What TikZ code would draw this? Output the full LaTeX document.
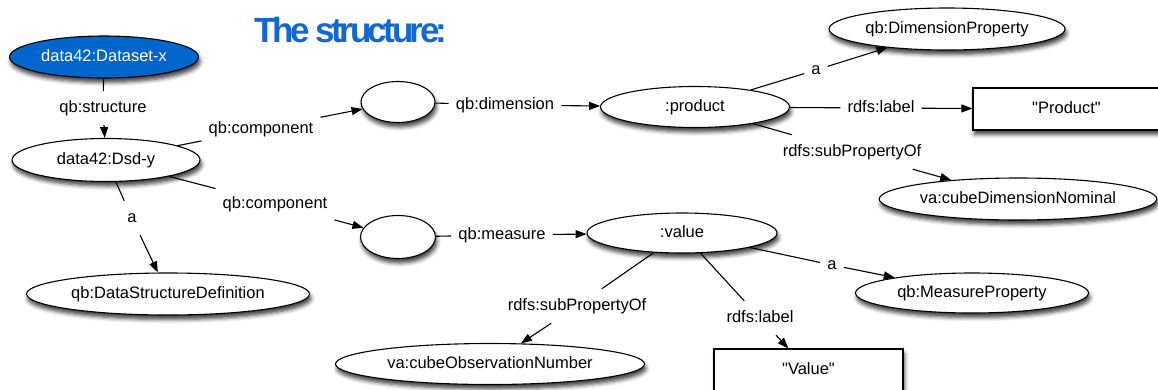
\documentclass[tikz,border=0pt]{standalone}
\usepackage{fontspec}
\setmainfont{Liberation Sans}[Ligatures=TeXOff]
\usetikzlibrary{shapes.geometric,arrows.meta,shadows.blur}
\definecolor{rdfblue}{RGB}{0,102,204}
\definecolor{titleblue}{RGB}{16,104,212}

\begin{document}
\begin{tikzpicture}[x=1bp,y=-1bp,
  every node/.style={font=\fontsize{16.5bp}{19bp}\selectfont},
  shade below/.style={blur shadow={shadow xshift=1.5bp, shadow yshift=-4.5bp,
      shadow blur radius=4bp, shadow opacity=75}},
  res/.style={ellipse, draw, line width=1.1bp, fill=white, inner sep=0pt,
      text height=12bp, text depth=3.5bp, shade below},
  lit/.style={rectangle, draw, line width=1.1bp, fill=white, inner sep=0pt,
      text height=12bp, text depth=3.5bp, shade below},
  prop/.style={inner xsep=7bp, inner ysep=9.25bp, text height=12bp, text depth=3.5bp},
  link/.style={line width=1.1bp},
  tip/.style={link, -{Triangle[length=11bp,width=8bp]}}
]
\useasboundingbox (0,0) rectangle (1158,389);

% title
\node[font=\fontsize{35bp}{40bp}\selectfont\bfseries\addfontfeature{LetterSpace=-10},
      text=titleblue, inner sep=0pt, anchor=base] (title) at (351,42) {The structure:};

% resources and literals
\node[res, fill=rdfblue, text=white, minimum width=189bp, minimum height=42bp] (ds) at (104,57) {data42:Dataset-x};
\node[res, minimum width=188bp, minimum height=43bp] (dsd) at (106,160) {data42:Dsd-y};
\node[res, minimum width=283bp, minimum height=42bp] (dsdef) at (168,294) {qb:DataStructureDefinition};
\node[res, minimum width=74bp, minimum height=41bp] (c1) at (398,102) {};
\node[res, minimum width=75bp, minimum height=43bp] (c2) at (398,237) {};
\node[res, minimum width=189bp, minimum height=41bp] (prod) at (695,107) {:product};
\node[res, minimum width=190bp, minimum height=40bp] (val) at (682,233) {:value};
\node[res, minimum width=236bp, minimum height=42bp] (dimprop) at (947,29) {qb:DimensionProperty};
\node[lit, minimum width=187bp, minimum height=42bp] (prodlit) at (1066.5,109) {"Product"};
\node[res, minimum width=277bp, minimum height=42bp] (dimnom) at (1018,199) {va:cubeDimensionNominal};
\node[res, minimum width=233bp, minimum height=40bp] (measprop) at (972,293) {qb:MeasureProperty};
\node[res, minimum width=309bp, minimum height=41bp] (obsnum) at (490,364) {va:cubeObservationNumber};
\node[lit, minimum width=189bp, minimum height=42bp] (vallit) at (808.5,370) {"Value"};

% property labels
\node[prop] (pstruct) at (103,108) {qb:structure};
\node[prop] (pcomp1) at (261,129) {qb:component};
\node[prop] (pcomp2) at (275,204) {qb:component};
\node[prop] (ptype1) at (132,218) {a};
\node[prop] (pdim) at (505,105) {qb:dimension};
\node[prop] (pmeas) at (502,235) {qb:measure};
\node[prop] (ptype2) at (816,70) {a};
\node[prop] (plabel1) at (881,108) {rdfs:label};
\node[prop] (psub1) at (852,152) {rdfs:subPropertyOf};
\node[prop] (ptype3) at (832,265) {a};
\node[prop] (psub2) at (577,306) {rdfs:subPropertyOf};
\node[prop] (plabel2) at (760,318) {rdfs:label};

% connectors: subject -- label -> object
\draw[link] (ds) -- (pstruct);   \draw[tip] (pstruct) -- (dsd);
\draw[link] (dsd) -- (pcomp1);   \draw[tip] (pcomp1) -- (c1);
\draw[link] (dsd) -- (pcomp2);   \draw[tip] (pcomp2) -- (c2);
\draw[link] (dsd) -- (ptype1);   \draw[tip] (ptype1) -- (dsdef);
\draw[link] (c1) -- (pdim);      \draw[tip] (pdim) -- (prod);
\draw[link] (c2) -- (pmeas);     \draw[tip] (pmeas) -- (val);
\draw[link] (prod) -- (ptype2);  \draw[tip] (ptype2) -- (dimprop);
\draw[link] (prod) -- (plabel1); \draw[tip] (plabel1) -- (prodlit);
\draw[link] (prod) -- (psub1);   \draw[tip] (psub1) -- (dimnom);
\draw[link] (val) -- (ptype3);   \draw[tip] (ptype3) -- (measprop);
\draw[link] (val) -- (psub2);    \draw[tip] (psub2) -- (obsnum);
\draw[link] (val) -- (plabel2);  \draw[tip] (plabel2) -- (vallit);
\end{tikzpicture}
\end{document}
